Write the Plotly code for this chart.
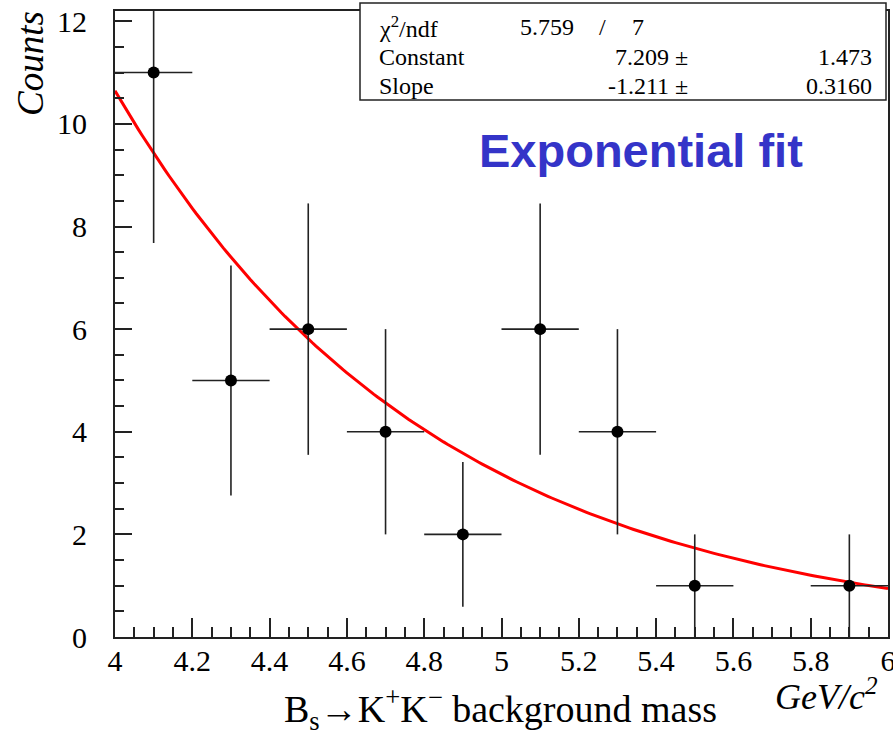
import numpy as np
import plotly.graph_objects as go

# ---- data ----
bin_centers = [4.1, 4.3, 4.5, 4.7, 4.9, 5.1, 5.3, 5.5, 5.9]
counts = [11, 5, 6, 4, 2, 6, 4, 1, 1]
count_errors = [3.32, 2.24, 2.45, 2.0, 1.41, 2.45, 2.0, 1.0, 1.0]
bin_half_width = [0.1] * len(bin_centers)

# fit parameters shown in the stats box (expo: exp(Constant + Slope*x))
fit_constant = 7.209
fit_slope = -1.211
fit_range = [4.0, 6.0]

stats_rows = [
    ["χ<sup>2</sup>/ndf", "5.759", "/", "7"],
    ["Constant", "7.209 ±", "1.473"],
    ["Slope", "-1.211 ±", "0.3160"],
]

x_ticks = [4, 4.2, 4.4, 4.6, 4.8, 5, 5.2, 5.4, 5.6, 5.8, 6]
y_ticks = [0, 2, 4, 6, 8, 10, 12]

# ---- geometry (pixels) ----
W, H = 893, 736
L, R, T, B = 115, 888, 11, 637  # plot area


def px(xs):
    return (xs - L) / (R - L)


def py(ys):
    return (B - ys) / (B - T)


fit_x = np.linspace(fit_range[0], fit_range[1], 201)
fit_y = np.exp(fit_constant + fit_slope * fit_x)

fig = go.Figure()

fig.add_trace(go.Scatter(
    x=fit_x, y=fit_y, mode="lines",
    line=dict(color="#ff0000", width=3),
    hoverinfo="skip", showlegend=False,
))

fig.add_trace(go.Scatter(
    x=bin_centers, y=counts, mode="markers",
    marker=dict(color="black", size=12, symbol="circle"),
    error_x=dict(type="data", array=bin_half_width, width=0, thickness=1.6, color="#222222"),
    error_y=dict(type="data", array=count_errors, width=0, thickness=1.6, color="#222222"),
    showlegend=False,
))

serif = "Liberation Serif"

fig.update_layout(
    width=W, height=H,
    margin=dict(l=L, r=W - R, t=T, b=H - B, autoexpand=False),
    paper_bgcolor="white", plot_bgcolor="white",
    showlegend=False,
    xaxis=dict(
        range=[4, 6], tickvals=x_ticks, ticktext=[f"{v:g}" for v in x_ticks],
        ticks="inside", ticklen=19, tickwidth=1.5, tickcolor="#222222",
        minor=dict(dtick=0.05, ticks="inside", ticklen=10, tickwidth=1.5, tickcolor="#222222"),
        showline=True, linecolor="#222222", linewidth=1.8, mirror=True,
        showgrid=False, zeroline=False,
        tickfont=dict(family=serif, size=30, color="black"),
        ticklabelstandoff=-4, ticklabeloverflow="allow",
    ),
    yaxis=dict(
        range=[0, 12.2], tickvals=y_ticks, ticktext=[str(v) for v in y_ticks],
        ticks="inside", ticklen=17, tickwidth=1.5, tickcolor="#222222",
        minor=dict(dtick=0.5, ticks="inside", ticklen=9, tickwidth=1.5, tickcolor="#222222"),
        showline=True, linecolor="#222222", linewidth=1.8, mirror=True,
        showgrid=False, zeroline=False,
        tickfont=dict(family=serif, size=30, color="black"),
        ticklabelstandoff=20, ticklabeloverflow="allow",
    ),
)

# stats box
fig.add_shape(type="rect", xref="paper", yref="paper",
              x0=px(360), x1=px(886), y0=py(100), y1=py(3),
              line=dict(color="#222222", width=1.5), fillcolor="white", layer="above")

stat_font = dict(family=serif, size=24, color="black")
row_y = [27, 57, 86]
ann = []
ann.append(dict(x=px(377), y=py(row_y[0]), text=stats_rows[0][0], xanchor="left"))
ann.append(dict(x=px(518), y=py(row_y[0]), text=stats_rows[0][1], xanchor="left"))
ann.append(dict(x=px(602), y=py(row_y[0]), text=stats_rows[0][2], xanchor="center"))
ann.append(dict(x=px(638), y=py(row_y[0]), text=stats_rows[0][3], xanchor="center"))
for i in (1, 2):
    ann.append(dict(x=px(377), y=py(row_y[i]), text=stats_rows[i][0], xanchor="left"))
    ann.append(dict(x=px(690), y=py(row_y[i]), text=stats_rows[i][1], xanchor="right"))
    ann.append(dict(x=px(874), y=py(row_y[i]), text=stats_rows[i][2], xanchor="right"))
for a in ann:
    fig.add_annotation(xref="paper", yref="paper", yanchor="middle", showarrow=False,
                       font=stat_font, **a)

# label "Exponential fit"
fig.add_annotation(xref="paper", yref="paper", x=px(641), y=py(150),
                   text="<b>Exponential fit</b>", showarrow=False,
                   xanchor="center", yanchor="middle",
                   font=dict(family="Liberation Sans", size=47, color="#3434c8"))

# y-axis title
fig.add_annotation(xref="paper", yref="paper", x=px(30), y=py(64),
                   text="<i>Counts</i>", textangle=-90, showarrow=False,
                   xanchor="center", yanchor="middle",
                   font=dict(family=serif, size=37, color="black"))

# x-axis unit
fig.add_annotation(xref="paper", yref="paper", x=px(880), y=py(694),
                   text="<i>GeV/c<sup>2</sup></i>", showarrow=False,
                   xanchor="right", yanchor="middle",
                   font=dict(family=serif, size=36, color="black"))

# x-axis title
fig.add_annotation(xref="paper", yref="paper", x=px(500), y=py(709),
                   text="B<sub>s</sub>→K<sup>+</sup>K<sup>−</sup> background mass",
                   showarrow=False, xanchor="center", yanchor="middle",
                   font=dict(family=serif, size=38, color="black"))

fig.write_html("out.html", config={"displayModeBar": False},
               post_script="document.body.style.margin='0';")
